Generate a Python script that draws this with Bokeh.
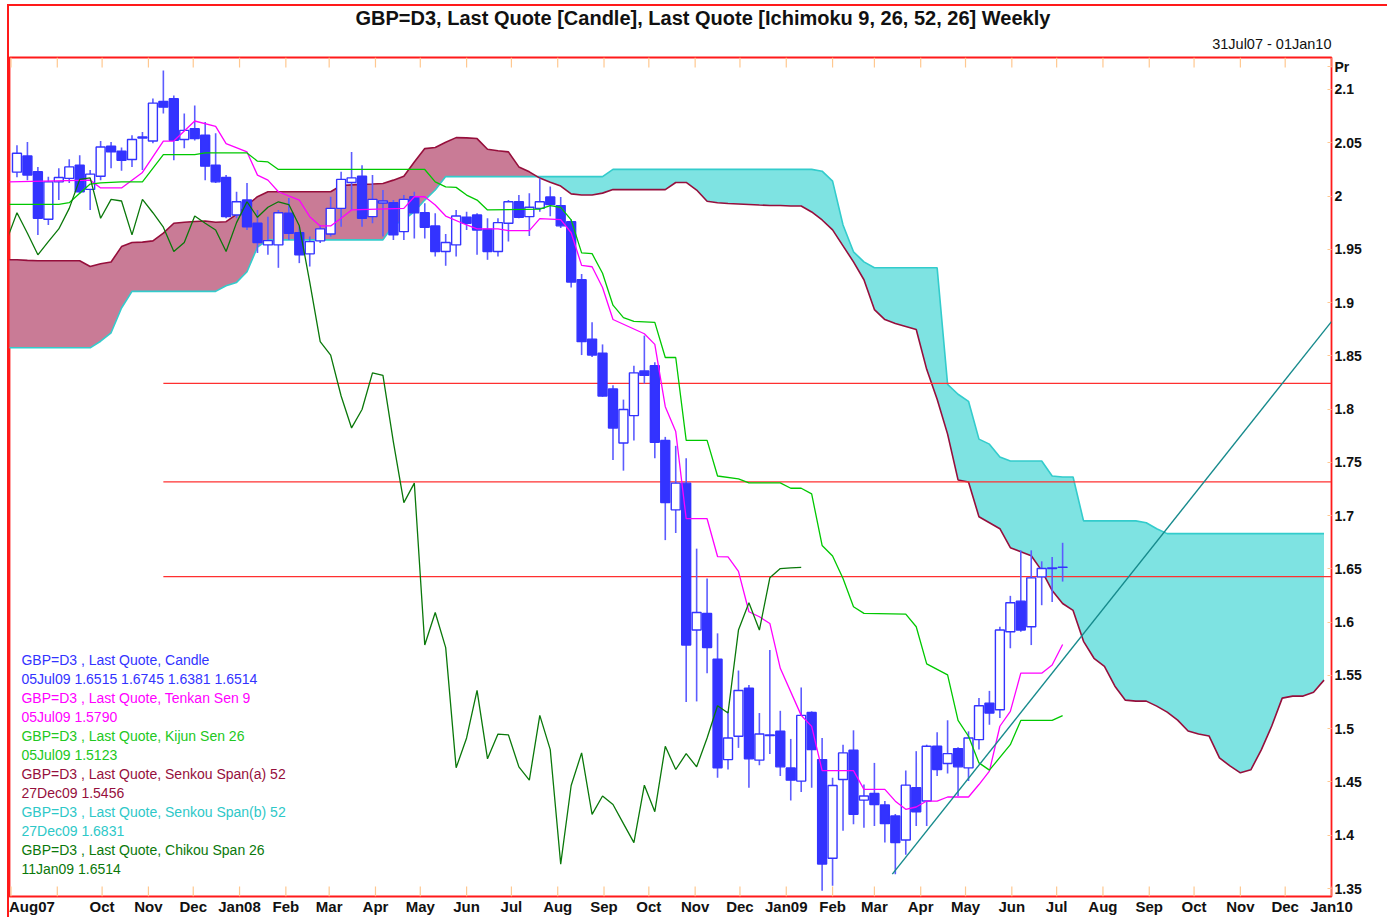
from datetime import datetime, timedelta
from bokeh.plotting import figure
from bokeh.models import (Range1d, LinearAxis, FixedTicker, Title,
                          CustomJSTickFormatter, ColumnDataSource)
from bokeh.core.properties import value
from bokeh.embed import file_html
from bokeh.resources import INLINE

# ---------------- data (weekly, first candle 05Aug07, week k=1) ----------------
FIRST_WEEK = datetime(2007, 8, 5)

opens = [2.0224, 2.0376, 2.0227, 1.9782, 2.0133, 2.0165, 2.0289, 2.0062, 2.0186, 2.0467,
         2.0420, 2.0343, 2.0545, 2.0516, 2.0888, 2.0913, 2.0530, 2.0632, 2.0570, 2.0289,
         2.0174, 1.9822, 1.9962, 1.9744, 1.9541, 1.9541, 1.9838, 1.9656, 1.9457, 1.9579,
         1.9644, 1.9884, 2.0127, 2.0186, 1.9806, 1.9934, 1.9937, 1.9666, 1.9993, 1.9843,
         1.9719, 1.9479, 1.9541, 1.9800, 1.9822, 1.9688, 1.9479, 1.9744, 1.9946, 1.9806,
         1.9884, 1.9990, 1.9910, 1.9759, 1.9215, 1.8657, 1.8524, 1.8189, 1.7682, 1.7939,
         1.8357, 1.8407, 1.7706, 1.7054, 1.7305, 1.5926, 1.6082, 1.5652, 1.4710, 1.4929,
         1.5380, 1.4705, 1.4935, 1.4976, 1.4632, 1.4508, 1.5153, 1.4710, 1.3784, 1.4523,
         1.4798, 1.4330, 1.4392, 1.4284, 1.4181, 1.3956, 1.4446, 1.4321, 1.4835, 1.4673,
         1.4813, 1.4632, 1.4897, 1.5240, 1.5178, 1.5910, 1.6197, 1.5957, 1.6425, 1.6503,
         1.6515]
highs = [2.0476, 2.0507, 2.0273, 2.0180, 2.0261, 2.0345, 2.0383, 2.0243, 2.0516, 2.0507,
         2.0455, 2.0570, 2.0601, 2.0916, 2.1177, 2.0944, 2.0775, 2.0850, 2.0694, 2.0589,
         2.0196, 2.0040, 2.0121, 1.9869, 1.9806, 1.9869, 1.9981, 1.9712, 1.9619, 1.9728,
         1.9993, 2.0227, 2.0414, 2.0289, 2.0196, 2.0056, 1.9962, 2.0009, 2.0040, 1.9931,
         1.9838, 1.9644, 1.9869, 1.9853, 1.9838, 1.9791, 1.9791, 1.9962, 2.0009, 2.0025,
         2.0165, 2.0090, 1.9990, 1.9780, 1.9268, 1.8814, 1.8607, 1.8223, 1.8089, 1.8407,
         1.8690, 1.8440, 1.7739, 1.7655, 1.7538, 1.6690, 1.6409, 1.5895, 1.5163, 1.5546,
         1.5411, 1.5147, 1.5739, 1.5168, 1.4904, 1.5387, 1.5163, 1.4913, 1.4539, 1.4850,
         1.4985, 1.4476, 1.4679, 1.4321, 1.4200, 1.4607, 1.4789, 1.4850, 1.4966, 1.5079,
         1.4826, 1.4975, 1.5287, 1.5355, 1.5957, 1.6247, 1.6674, 1.6674, 1.6571, 1.6612,
         1.6745]
lows = [2.0177, 2.0149, 1.9635, 1.9728, 1.9962, 2.0121, 2.0020, 1.9869, 2.0149, 2.0261,
        2.0236, 2.0273, 2.0243, 2.0495, 2.0775, 2.0336, 2.0448, 2.0520, 2.0149, 2.0121,
        1.9790, 1.9790, 1.9681, 1.9466, 1.9448, 1.9326, 1.9588, 1.9370, 1.9338, 1.9560,
        1.9619, 1.9712, 1.9869, 1.9712, 1.9744, 1.9619, 1.9588, 1.9588, 1.9600, 1.9600,
        1.9432, 1.9345, 1.9432, 1.9681, 1.9448, 1.9401, 1.9432, 1.9572, 1.9791, 1.9625,
        1.9853, 1.9810, 1.9700, 1.9141, 1.8507, 1.8490, 1.8115, 1.7522, 1.7422, 1.7706,
        1.8240, 1.7538, 1.6770, 1.6837, 1.5250, 1.5256, 1.5521, 1.4540, 1.4617, 1.4820,
        1.4446, 1.4658, 1.4763, 1.4555, 1.4327, 1.4405, 1.4446, 1.3480, 1.3526, 1.4041,
        1.4102, 1.4071, 1.4087, 1.3931, 1.3635, 1.3816, 1.4087, 1.4087, 1.4555, 1.4580,
        1.4368, 1.4508, 1.4804, 1.5037, 1.5100, 1.5755, 1.5910, 1.5785, 1.6159, 1.6190,
        1.6381]
closes = [2.0401, 2.0196, 1.9791, 2.0133, 2.0174, 2.0273, 2.0040, 2.0205, 2.0460, 2.0414,
          2.0336, 2.0530, 2.0554, 2.0872, 2.0834, 2.0523, 2.0616, 2.0539, 2.0280, 2.0133,
          1.9806, 1.9946, 1.9712, 1.9563, 1.9581, 1.9843, 1.9650, 1.9448, 1.9572, 1.9691,
          1.9884, 2.0156, 2.0170, 1.9791, 1.9968, 1.9953, 1.9635, 1.9968, 1.9843, 1.9707,
          1.9479, 1.9563, 1.9812, 1.9744, 1.9681, 1.9479, 1.9750, 1.9946, 1.9800, 1.9894,
          1.9946, 1.9920, 1.9720, 1.9192, 1.8633, 1.8507, 1.8123, 1.7823, 1.7996, 1.8340,
          1.8316, 1.7689, 1.7122, 1.7305, 1.5785, 1.6091, 1.5761, 1.4633, 1.4913, 1.5359,
          1.4717, 1.4950, 1.4942, 1.4642, 1.4517, 1.5125, 1.4804, 1.3729, 1.4467, 1.4773,
          1.4196, 1.4368, 1.4289, 1.4109, 1.3931, 1.4470, 1.4221, 1.4835, 1.4617, 1.4766,
          1.4642, 1.4913, 1.5215, 1.5147, 1.5926, 1.6182, 1.5926, 1.6416, 1.6503, 1.6510,
          1.6514]

# Tenkan Sen 9 (week index, value) at its vertices
tenkan_weeks = [0, 8, 9, 11, 13, 15, 16, 18, 20, 21, 23, 24, 25, 26, 28, 29, 30, 31, 32, 33,
                38, 39, 40, 41, 42, 44, 45, 47, 48, 50, 51, 53, 54, 55, 56, 57, 58, 61, 62, 63,
                64, 65, 67, 68, 69, 70, 71, 72, 73, 74, 76, 77, 78, 81, 82, 84, 85, 86, 87, 88,
                89, 90, 92, 93, 94, 95, 96, 97, 99, 100, 101]
tenkan = [2.0133, 2.0149, 2.0076, 2.0076, 2.0221, 2.0516, 2.0516, 2.0704, 2.0654, 2.0492,
          2.0414, 2.0196, 2.0149, 2.0040, 1.9962, 1.9806, 1.9719, 1.9719, 1.9791, 1.9869,
          1.9884, 1.9993, 1.9993, 1.9915, 1.9812, 1.9728, 1.9691, 1.9691, 1.9675, 1.9675,
          1.9788, 1.9779, 1.9655, 1.9349, 1.9336, 1.9141, 1.8841, 1.8707, 1.8607, 1.8023,
          1.7789, 1.6971, 1.6971, 1.6616, 1.6612, 1.6477, 1.6098, 1.6051, 1.5988, 1.5567,
          1.5125, 1.5022, 1.4607, 1.4607, 1.4430, 1.4430, 1.4320, 1.4243, 1.4265, 1.4321,
          1.4321, 1.4359, 1.4359, 1.4476, 1.4602, 1.5023, 1.5163, 1.5521, 1.5521, 1.5598,
          1.5790]

# Kijun Sen 26
kijun_weeks = [0, 5, 6, 7, 8, 9, 11, 13, 15, 18, 19, 23, 24, 25, 26, 40, 41, 42, 43, 44,
               45, 46, 51, 52, 53, 54, 55, 56, 57, 58, 59, 60, 62, 63, 64, 65, 67, 68, 70, 71,
               74, 75, 76, 77, 78, 79, 80, 81, 82, 86, 87, 88, 90, 91, 92, 93, 94, 96, 97, 100,
               101]
kijun = [1.9922, 1.9922, 1.9937, 2.0025, 2.0112, 2.0124, 2.0133, 2.0133, 2.0389, 2.0389,
         2.0404, 2.0404, 2.0327, 2.0320, 2.0249, 2.0249, 2.0133, 2.0086, 2.0081, 2.0009,
         1.9962, 1.9869, 1.9876, 1.9910, 1.9893, 1.9776, 1.9466, 1.9459, 1.9275, 1.8975,
         1.8858, 1.8824, 1.8814, 1.8484, 1.8484, 1.7706, 1.7706, 1.7372, 1.7344, 1.7307,
         1.7307, 1.7257, 1.7257, 1.7204, 1.6720, 1.6621, 1.6409, 1.6144, 1.6082, 1.6075,
         1.5957, 1.5608, 1.5505, 1.5078, 1.4929, 1.4679, 1.4611, 1.4850, 1.5078, 1.5078,
         1.5123]

# Senkou spans, weeks 0 .. 126 (27Dec09)
senkou_a = [1.9401, 1.9401, 1.9396, 1.9392, 1.9392, 1.9392, 1.9392, 1.9392, 1.9338, 1.9364,
            1.9380, 1.9525, 1.9563, 1.9567, 1.9579, 1.9651, 1.9744, 1.9754, 1.9760, 1.9766,
            1.9754, 1.9759, 1.9828, 1.9915, 1.9993, 2.0040, 2.0040, 2.0040, 2.0040, 2.0040,
            2.0040, 2.0040, 2.0098, 2.0104, 2.0109, 2.0113, 2.0118, 2.0149, 2.0186, 2.0320,
            2.0445, 2.0455, 2.0504, 2.0548, 2.0546, 2.0539, 2.0439, 2.0425, 2.0414, 2.0273,
            2.0227, 2.0168, 2.0130, 2.0093, 2.0020, 2.0010, 2.0010, 2.0027, 2.0060, 2.0060,
            2.0060, 2.0060, 2.0060, 2.0060, 2.0127, 2.0127, 2.0056, 1.9950, 1.9936, 1.9929,
            1.9925, 1.9920, 1.9915, 1.9911, 1.9911, 1.9906, 1.9906, 1.9850, 1.9775, 1.9682,
            1.9532, 1.9382, 1.9214, 1.8934, 1.8840, 1.8803, 1.8775, 1.8747, 1.8373, 1.8092,
            1.7765, 1.7335, 1.7316, 1.6989, 1.6933, 1.6877, 1.6699, 1.6662, 1.6624, 1.6484,
            1.6297, 1.6175, 1.6110, 1.5820, 1.5661, 1.5586, 1.5399, 1.5268, 1.5259, 1.5259,
            1.5212, 1.5156, 1.5081, 1.4979, 1.4950, 1.4932, 1.4726, 1.4651, 1.4586, 1.4614,
            1.4801, 1.5025, 1.5287, 1.5306, 1.5306, 1.5343, 1.5456]
senkou_b = [1.8575, 1.8575, 1.8575, 1.8575, 1.8575, 1.8575, 1.8575, 1.8575, 1.8575, 1.8637,
            1.8716, 1.8949, 1.9105, 1.9105, 1.9105, 1.9105, 1.9105, 1.9105, 1.9105, 1.9105,
            1.9105, 1.9158, 1.9189, 1.9289, 1.9520, 1.9588, 1.9588, 1.9588, 1.9588, 1.9588,
            1.9588, 1.9588, 1.9588, 1.9588, 1.9588, 1.9588, 1.9588, 1.9728, 1.9775, 1.9853,
            1.9962, 2.0056, 2.0182, 2.0182, 2.0182, 2.0182, 2.0182, 2.0182, 2.0182, 2.0182,
            2.0182, 2.0182, 2.0182, 2.0182, 2.0182, 2.0182, 2.0182, 2.0182, 2.0250, 2.0250,
            2.0250, 2.0250, 2.0250, 2.0250, 2.0250, 2.0250, 2.0250, 2.0250, 2.0250, 2.0250,
            2.0250, 2.0250, 2.0250, 2.0250, 2.0250, 2.0250, 2.0250, 2.0250, 2.0233, 2.0140,
            1.9728, 1.9476, 1.9382, 1.9326, 1.9326, 1.9326, 1.9326, 1.9326, 1.9326, 1.9326,
            1.8232, 1.8139, 1.8073, 1.7718, 1.7671, 1.7550, 1.7512, 1.7512, 1.7512, 1.7512,
            1.7372, 1.7363, 1.7363, 1.6951, 1.6951, 1.6951, 1.6951, 1.6951, 1.6951, 1.6933,
            1.6877, 1.6831, 1.6831, 1.6831, 1.6831, 1.6831, 1.6831, 1.6831, 1.6831, 1.6831,
            1.6831, 1.6831, 1.6831, 1.6831, 1.6831, 1.6831, 1.6831]

CHIKOU_SHIFT = 25                         # chikou = close plotted 25 weeks back
hline_levels = [1.8242, 1.7316, 1.6428]   # horizontal lines from 11Nov07
hline_start = datetime(2007, 11, 11)
trend_dates = [datetime(2009, 3, 13), datetime(2010, 1, 1)]
trend_values = [1.3635, 1.8821]

legend_lines = ["GBP=D3 , Last Quote, Candle", "05Jul09 1.6515 1.6745 1.6381 1.6514",
                "GBP=D3 , Last Quote, Tenkan Sen 9", "05Jul09 1.5790",
                "GBP=D3 , Last Quote, Kijun Sen 26", "05Jul09 1.5123",
                "GBP=D3 , Last Quote, Senkou Span(a) 52", "27Dec09 1.5456",
                "GBP=D3 , Last Quote, Senkou Span(b) 52", "27Dec09 1.6831",
                "GBP=D3 , Last Quote, Chikou Span 26", "11Jan09 1.6514"]

TITLE = "GBP=D3, Last Quote [Candle], Last Quote [Ichimoku 9, 26, 52, 26] Weekly"
SUBTITLE = "31Jul07 - 01Jan10"

# ---------------- styles ----------------
C_CANDLE = "#3333ff"
C_WICK = "#5c5cff"
C_TENKAN = "#ff00ff"
C_KIJUN = "#00c800"
C_SPANA = "#960f3c"
C_SPANB = "#33cccc"
C_CHIKOU = "#0a780a"
C_PINK = "#c97b96"
C_CYAN = "#7ee3e2"
C_RED = "#ff3030"
C_TREND = "#168a8c"
C_TICK = "#ffc890"
FONT = "Liberation Sans"

EPOCH = datetime(1970, 1, 1)


def ms(d):
    return (d - EPOCH).total_seconds() * 1000.0


def wk(k):
    return ms(FIRST_WEEK + timedelta(weeks=k - 1))


x_start = ms(datetime(2007, 7, 31))
x_end = ms(datetime(2010, 1, 1))
Y0, Y1 = 1.3425, 2.1300
FRAME_H = 842

p = figure(width=1387, height=917, output_backend="svg", toolbar_location=None,
           x_range=Range1d(x_start, x_end), y_range=Range1d(Y0, Y1),
           x_axis_location=None, y_axis_location=None,
           min_border_left=9, min_border_right=56, min_border_top=57,
           min_border_bottom=18,
           styles={"background": "linear-gradient(#ff1a1a, #ff1a1a) 7px 4px / 100% 2px no-repeat, "
                                 "linear-gradient(#ff1a1a, #ff1a1a) 7px 4px / 2px 100% no-repeat, "
                                 "white"})
p.outline_line_color = "#ff1a1a"
p.outline_line_width = 1.8
p.background_fill_color = "white"
p.border_fill_color = None
p.xgrid.grid_line_color = None
p.ygrid.grid_line_color = None
p.extra_y_ranges = {"px": Range1d(0, FRAME_H)}

# ---------------- cloud ----------------
sx = [wk(k) for k in range(len(senkou_a))]
X, A, B = [], [], []
for i in range(len(sx)):
    if i > 0:
        d0 = senkou_a[i - 1] - senkou_b[i - 1]
        d1 = senkou_a[i] - senkou_b[i]
        if d0 * d1 < 0:
            t = d0 / (d0 - d1)
            xc = sx[i - 1] + t * (sx[i] - sx[i - 1])
            yc = senkou_a[i - 1] + t * (senkou_a[i] - senkou_a[i - 1])
            X.append(xc); A.append(yc); B.append(yc)
    X.append(sx[i]); A.append(senkou_a[i]); B.append(senkou_b[i])
TOP = [max(a, b) for a, b in zip(A, B)]
p.varea(x=X, y1=B, y2=TOP, fill_color=C_PINK, fill_alpha=1.0)
p.varea(x=X, y1=A, y2=TOP, fill_color=C_CYAN, fill_alpha=1.0)
p.line(sx, senkou_b, line_color=C_SPANB, line_width=1.6)
p.line(sx, senkou_a, line_color=C_SPANA, line_width=1.6)

# ---------------- horizontal lines ----------------
p.segment(x0=[ms(hline_start)] * len(hline_levels), x1=[x_end] * len(hline_levels),
          y0=hline_levels, y1=hline_levels, line_color=C_RED, line_width=1.3)

# ---------------- candles ----------------
cx = [wk(i + 1) for i in range(len(opens))]
up = [c >= o for o, c in zip(opens, closes)]
src = ColumnDataSource(dict(
    x=cx, h=highs, l=lows,
    top=[max(o, c) for o, c in zip(opens, closes)],
    bottom=[min(o, c) for o, c in zip(opens, closes)],
    fill=["white" if u else C_CANDLE for u in up]))
p.segment(x0="x", x1="x", y0="l", y1="h", source=src, line_color=C_WICK, line_width=1.6)
p.vbar(x="x", width=6.0 * 86400000, top="top", bottom="bottom", source=src,
       fill_color="fill", line_color=C_CANDLE, line_width=1.4)

# ---------------- ichimoku lines ----------------
p.line([wk(k) for k in tenkan_weeks], tenkan, line_color=C_TENKAN, line_width=1.3)
p.line([wk(k) for k in kijun_weeks], kijun, line_color=C_KIJUN, line_width=1.3)
chik_x = [wk(i + 1 - CHIKOU_SHIFT) for i in range(CHIKOU_SHIFT - 1, len(closes))]
chik_y = closes[CHIKOU_SHIFT - 1:]
p.line(chik_x, chik_y, line_color=C_CHIKOU, line_width=1.3)

# ---------------- trend line ----------------
p.line([ms(d) for d in trend_dates], trend_values, line_color=C_TREND, line_width=1.4)

# ---------------- legend text ----------------
leg_colors = [C_CANDLE, C_CANDLE, C_TENKAN, C_TENKAN, "#22c822", "#22c822",
              C_SPANA, C_SPANA, "#2ec8c8", "#2ec8c8", C_CHIKOU, C_CHIKOU]
leg_top = Y1 - (605.0 / FRAME_H) * (Y1 - Y0)
leg_step = (19.0 / FRAME_H) * (Y1 - Y0)
p.text(x=[ms(datetime(2007, 8, 8))] * len(legend_lines),
       y=[leg_top - i * leg_step for i in range(len(legend_lines))],
       text=legend_lines, text_color=leg_colors,
       text_font=value(FONT), text_font_size=value("14px"),
       text_baseline="middle", text_align="left")

# ---------------- month ticks (inside the frame, top and bottom) ----------------
months = []
d = datetime(2007, 8, 1)
while d <= datetime(2010, 1, 1):
    months.append(d)
    d = datetime(d.year + (d.month // 12), d.month % 12 + 1, 1)
month_ms = [ms(m) for m in months]
n = len(month_ms)
p.segment(x0=month_ms, x1=month_ms, y0=[0] * n, y1=[10] * n, y_range_name="px",
          line_color=C_TICK, line_width=1.2)
p.segment(x0=month_ms, x1=month_ms, y0=[FRAME_H - 10] * n, y1=[FRAME_H] * n,
          y_range_name="px", line_color=C_TICK, line_width=1.2)

label_ms, label_txt = [], []
for m in months:
    if m == datetime(2007, 9, 1):
        continue
    if m == datetime(2007, 8, 1):
        label_ms.append(ms(datetime(2007, 8, 15)))
        label_txt.append("Aug07")
        continue
    label_ms.append(ms(m))
    label_txt.append(m.strftime("%b") + (m.strftime("%y") if m.month == 1 else ""))

# ---------------- titles ----------------
p.add_layout(Title(text=SUBTITLE, align="right", text_font=FONT,
                   text_font_size="14.5px", text_font_style="normal",
                   text_color="#111111", standoff=11), "above")
p.add_layout(Title(text=TITLE, align="left", offset=346, text_font=FONT,
                   text_font_size="20px", text_font_style="bold",
                   text_color="#111111", standoff=0), "above")

# ---------------- axes ----------------
bot_labels = LinearAxis(ticker=FixedTicker(ticks=label_ms, minor_ticks=[]),
                        formatter=CustomJSTickFormatter(
                            args=dict(tvals=label_ms, tlabels=label_txt),
                            code="for (let i = 0; i < tvals.length; i++) {"
                                 " if (Math.abs(tvals[i] - tick) < 1000) return tlabels[i]; }"
                                 " return '';"),
                        major_tick_in=0, major_tick_out=0, major_tick_line_color=None,
                        major_label_standoff=1, axis_line_color=None,
                        minor_tick_line_color=None,
                        major_label_text_font=FONT, major_label_text_font_size="15px",
                        major_label_text_font_style="bold", major_label_text_color="#111111")
p.add_layout(bot_labels, "below")

y_ticks = [round(1.35 + 0.05 * i, 2) for i in range(16)] + [2.1215]
right_ax = LinearAxis(ticker=FixedTicker(ticks=y_ticks, minor_ticks=[]),
                      formatter=CustomJSTickFormatter(code=
                          "if (tick > 2.11) return 'Pr';"
                          " let s = tick.toFixed(2); s = s.replace(/0+$/, '').replace(/\\.$/, '');"
                          " return s;"),
                      major_tick_in=4, major_tick_out=0, major_tick_line_color=C_TICK,
                      major_label_standoff=3, axis_line_color=None,
                      minor_tick_line_color=None,
                      major_label_text_font=FONT, major_label_text_font_size="14px",
                      major_label_text_font_style="bold", major_label_text_color="#111111")
p.add_layout(right_ax, "right")

open("out.html", "w").write(file_html(p, INLINE))
